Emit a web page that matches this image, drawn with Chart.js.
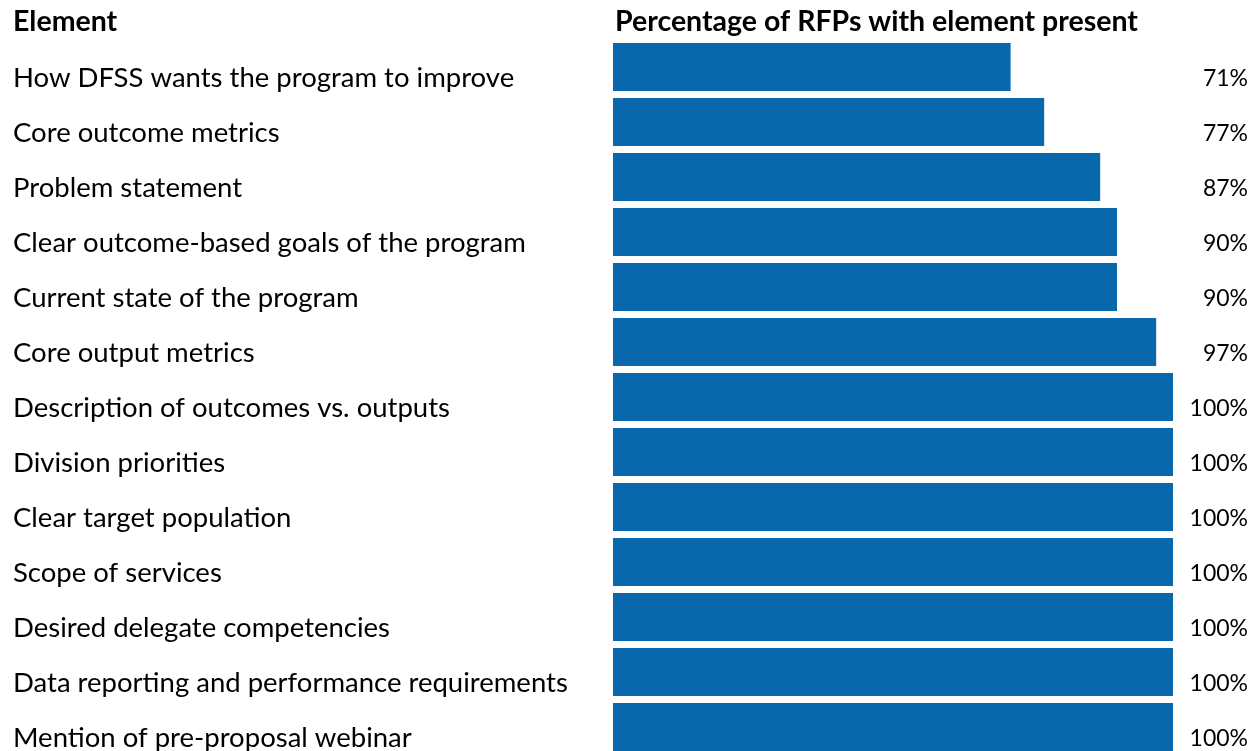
<!DOCTYPE html>
<html>
<head>
    <title>RFP elements</title>
    <script src="https://cdn.jsdelivr.net/npm/chart.js"></script>
    <style>
        body { margin: 0; background: #fff; overflow: hidden; }
        #chart-container { width: 1260px; height: 755px; }
    </style>
</head>
<body>
    <div id="chart-container">
        <canvas id="rfpChart"></canvas>
    </div>

    <script>
    // data
    const elements = [
        'How DFSS wants the program to improve',
        'Core outcome metrics',
        'Problem statement',
        'Clear outcome-based goals of the program',
        'Current state of the program',
        'Core output metrics',
        'Description of outcomes vs. outputs',
        'Division priorities',
        'Clear target population',
        'Scope of services',
        'Desired delegate competencies',
        'Data reporting and performance requirements',
        'Mention of pre-proposal webinar'
    ];
    const percentPresent = [71, 77, 87, 90, 90, 97, 100, 100, 100, 100, 100, 100, 100];

    const headerLeft = 'Element';
    const headerRight = 'Percentage of RFPs with element present';

    const FONT = 'Lato, "Open Sans", sans-serif';
    const BLUE = '#0868ab';

    // headers and the value labels on the right
    const textPlugin = {
        id: 'textPlugin',
        afterDatasetsDraw(chart) {
            const ctx = chart.ctx;
            const meta = chart.getDatasetMeta(0);
            ctx.save();
            ctx.fillStyle = '#000';
            ctx.textBaseline = 'middle';

            ctx.font = 'bold 28.5px ' + FONT;
            ctx.textAlign = 'left';
            ctx.fillText(headerLeft, 13, 22);
            ctx.fillText(headerRight, 615, 22);

            ctx.font = '23px ' + FONT;
            ctx.textAlign = 'right';
            meta.data.forEach((bar, i) => {
                ctx.fillText(percentPresent[i] + '%', 1248, bar.y + 12);
            });
            ctx.restore();
        }
    };

    function createChart() {
        const canvas = document.getElementById('rfpChart');
        new Chart(canvas, {
            type: 'bar',
            data: {
                labels: elements,
                datasets: [{
                    data: percentPresent,
                    backgroundColor: BLUE,
                    borderWidth: 0,
                    categoryPercentage: 1,
                    barPercentage: 0.873
                }]
            },
            options: {
                indexAxis: 'y',
                responsive: true,
                maintainAspectRatio: false,
                animation: false,
                layout: {
                    padding: { left: 13, right: 87, top: 39.5, bottom: 0.5 }
                },
                plugins: {
                    legend: { display: false },
                    tooltip: { enabled: false }
                },
                scales: {
                    x: {
                        display: false,
                        min: 0,
                        max: 100
                    },
                    y: {
                        grid: { display: false },
                        border: { display: false },
                        afterFit(scale) {
                            scale.width = 600;
                            scale.paddingTop = 0;
                            scale.paddingBottom = 0;
                        },
                        ticks: {
                            crossAlign: 'far',
                            labelOffset: 11,
                            color: '#000',
                            font: { family: FONT, size: 27.5 }
                        }
                    }
                }
            },
            plugins: [textPlugin]
        });
    }

    window.onload = () => {
        createChart();
    };
    </script>
</body>
</html>
